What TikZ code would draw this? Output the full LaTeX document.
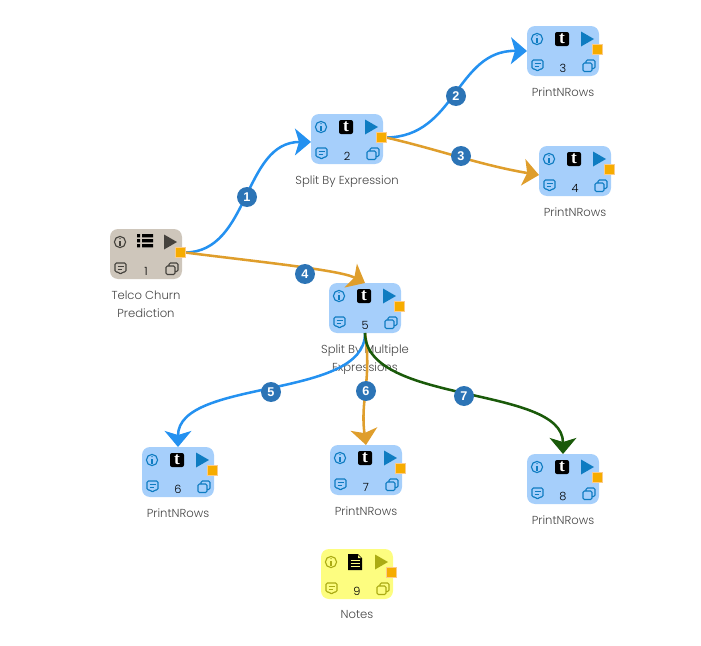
\documentclass[tikz,border=0pt]{standalone}
\usepackage{fontspec}
\setmainfont{Poppins}[UprightFont=* Light,BoldFont=* SemiBold]
\newfontfamily\numfont{Liberation Sans}
\newfontfamily\tfont{Liberation Serif}
\usetikzlibrary{arrows.meta}
\definecolor{bluebox}{HTML}{A6CFFB}
\definecolor{bluefg}{HTML}{0E7CC1}
\definecolor{greybox}{HTML}{CEC6BB}
\definecolor{greyfg}{HTML}{45423D}
\definecolor{yelbox}{HTML}{FDFD80}
\definecolor{yelfg}{HTML}{ABAB14}
\definecolor{portfill}{HTML}{F6AC00}
\definecolor{portedge}{HTML}{FBCB8A}
\definecolor{badge}{HTML}{2C74B6}
\definecolor{edgeblue}{HTML}{2491F0}
\definecolor{edgeorange}{HTML}{DF9E2C}
\definecolor{edgegreen}{HTML}{1A5A0A}
\definecolor{labelgrey}{HTML}{454545}
\tikzset{
  boxnode/.style={rounded corners=6pt,minimum width=54pt,minimum height=37.5pt,inner sep=0pt,outer sep=0pt},
  portnode/.style={fill=portfill,draw=portedge,line width=.4pt,minimum size=7.8pt,inner sep=0pt,outer sep=0pt},
  badgenode/.style={circle,fill=badge,minimum size=15pt,inner sep=0pt,text=white,font=\numfont\bfseries\fontsize{9.5}{10}\selectfont},
  caption/.style={align=center,text=labelgrey,font=\fontsize{8.7}{13.5}\selectfont,inner sep=0pt},
  numtext/.style={text=black,font=\fontsize{8.5}{9}\selectfont,inner sep=0pt},
  conn/.style={line width=1.9pt,-{Stealth[length=12pt,width=20pt,inset=3pt]}},
  iconline/.style={line width=.85pt,line join=round}
}
% name, left x, top y, box colour, icon colour, glyph macro, number, caption
\newcommand{\flownode}[8]{%
  \node[boxnode,fill=#4] (#1) at (#2+36,#3+25) {};
  \begin{scope}[shift={(#2,#3)}]
    \draw[iconline,#5] (10,13) circle (5.6);
    \draw[#5,line width=.85pt] (10,12) -- (10,16.5);
    \fill[#5] (10,9.7) circle (.75);
    \fill[#5] (54,5.5) -- (67,13) -- (54,20.5) -- cycle;
    \draw[iconline,#5,rounded corners=1pt] (5,34) -- (16,34) -- (16,43) -- (12.5,43) -- (10.5,45.5) -- (8.5,43) -- (5,43) -- cycle;
    \draw[#5,line width=.65pt] (7.5,37) -- (13.5,37) (7.5,40) -- (11.5,40);
    \draw[iconline,#5,rounded corners=1pt] (56,37) rectangle (65,45.5);
    \draw[iconline,#5,rounded corners=1pt] (59,37) -- (59,34) -- (68,34) -- (68,42.5) -- (65,42.5);
    #6
  \end{scope}
  \node[numtext] (#1num) at (#2+36,#3+42) {#7};
  \node[portnode] (#1port) at (#2+70,#3+23.5) {};
  \node[caption,anchor=north] (#1cap) at (#2+36,#3+61.2) {#8};
}
\newcommand{\tglyph}{%
  \fill[black,rounded corners=1.5pt] (28,6) rectangle (42,20);
  \node[text=white,inner sep=0pt,font=\tfont\bfseries\fontsize{13}{13}\selectfont] at (35,13) {t};
}
\newcommand{\listglyph}{%
  \fill[black] (27,5) rectangle (30,8.4) (32,5) rectangle (43,8.4);
  \fill[black] (27,10) rectangle (30,13.4) (32,10) rectangle (43,13.4);
  \fill[black] (27,15) rectangle (30,18.4) (32,15) rectangle (43,18.4);
}
\newcommand{\docglyph}{%
  \fill[black] (27,5) -- (37,5) -- (41,9) -- (41,21) -- (27,21) -- cycle;
  \draw[yelbox,line width=.7pt] (29.5,11.5) -- (38.5,11.5) (29.5,14.5) -- (38.5,14.5) (29.5,17.5) -- (38.5,17.5);
  \fill[yelbox] (37,6) -- (40,9) -- (37,9) -- cycle;
}
\begin{document}
\begin{tikzpicture}[x=.75pt,y=-.75pt]
\useasboundingbox (0,0) rectangle (701,646);
\flownode{n1}{110}{229}{greybox}{greyfg}{\listglyph}{1}{Telco Churn\\Prediction}
\flownode{n2}{311}{114}{bluebox}{bluefg}{\tglyph}{2}{Split By Expression}
\flownode{n3}{527}{26}{bluebox}{bluefg}{\tglyph}{3}{PrintNRows}
\flownode{n4}{539}{146}{bluebox}{bluefg}{\tglyph}{4}{PrintNRows}
\flownode{n5}{329}{283}{bluebox}{bluefg}{\tglyph}{5}{Split By Multiple\\Expressions}
\flownode{n6}{142}{447}{bluebox}{bluefg}{\tglyph}{6}{PrintNRows}
\flownode{n7}{330}{445}{bluebox}{bluefg}{\tglyph}{7}{PrintNRows}
\flownode{n8}{527}{454}{bluebox}{bluefg}{\tglyph}{8}{PrintNRows}
\flownode{n9}{321}{549}{yelbox}{yelfg}{\docglyph}{9}{Notes}
% connectors
\draw[conn,edgeblue] (n1port.east) .. controls (250,252) and (243,142) .. ([yshift=-2.2pt]n2.west);
\draw[conn,edgeblue] (n2port.east) .. controls (456,137) and (456,50) .. (n3.west);
\draw[conn,edgeorange] (n2port.east) .. controls (440,150) and (480,165) .. ([yshift=-3pt]n4.west);
\draw[conn,edgeorange] (n1port.east) .. controls (260,262) and (340,270) .. (n5.north);
\draw[conn,edgeblue] (n5.south) .. controls (366,400) and (178,378) .. (n6.north);
\draw[conn,edgeorange] (n5.south) .. controls (372,380) and (360,400) .. (n7.north);
\draw[conn,edgegreen] (n5.south) .. controls (366,405) and (563,385) .. (n8.north);
% re-draw ports over connector starts
\node[portnode] at (n1port) {};
\node[portnode] at (n2port) {};
% badges
\node[badgenode] (b1) at (247,197) {1};
\node[badgenode] (b2) at (456,96) {2};
\node[badgenode] (b3) at (461,156) {3};
\node[badgenode] (b4) at (305,274) {4};
\node[badgenode] (b5) at (271,392) {5};
\node[badgenode] (b6) at (366,391) {6};
\node[badgenode] (b7) at (464,396) {7};
\end{tikzpicture}
\end{document}
